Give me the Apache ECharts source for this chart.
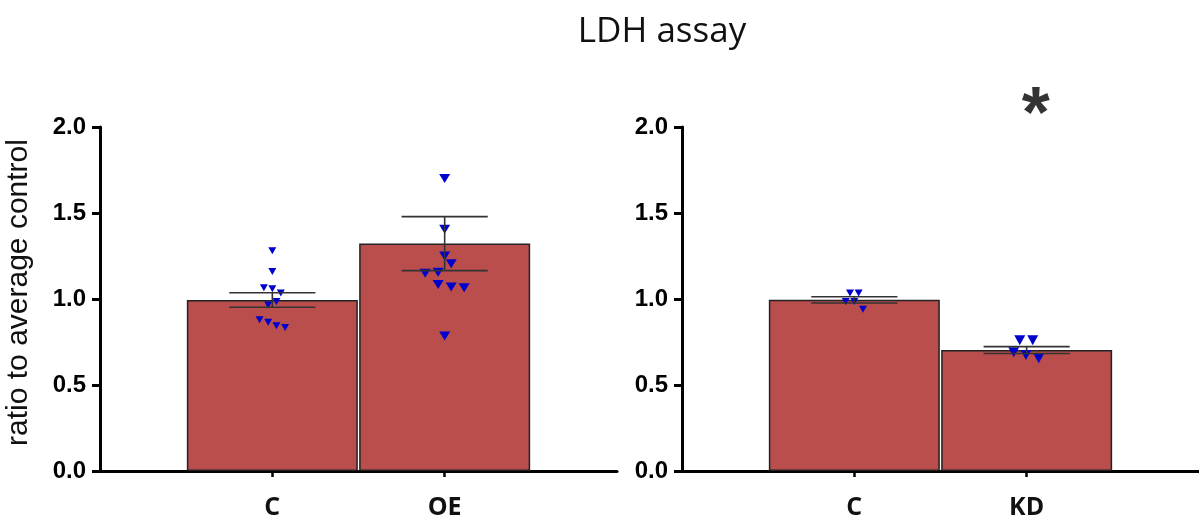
<!DOCTYPE html>
<html>
<head>
<meta charset="utf-8">
<script src="https://cdn.jsdelivr.net/npm/echarts@6/dist/echarts.min.js"></script>
<style>
  html, body { margin: 0; padding: 0; background: #ffffff; }
  #chart { width: 1199px; height: 525px; }
</style>
</head>
<body>
<div id="chart"></div>
<script>
// ---- data ----
const titleText = 'LDH assay';
const yAxisTitle = 'ratio to average control';

const leftCategories = ['C', 'OE'];
const leftMeans = [0.994, 1.322];
const leftSem = [0.042, 0.157];
const leftCPoints = [1.28, 1.16, 1.065, 1.06, 1.035, 0.985, 0.965, 0.88, 0.865, 0.845, 0.835];
const leftCJitter = [0, 0, -0.049, 0, 0.049, 0.024, -0.024, -0.074, -0.024, 0.024, 0.074];
const oePoints = [1.70, 1.405, 1.25, 1.205, 1.15, 1.155, 1.085, 1.07, 1.065, 0.785];
const oeJitter = [0, 0, 0, 0.038, -0.113, -0.038, -0.038, 0.038, 0.113, 0];

const rightCategories = ['C', 'KD'];
const rightMeans = [0.995, 0.703];
const rightSem = [0.018, 0.020];
const rightCPoints = [1.035, 1.035, 0.985, 0.985, 0.94];
const rightCJitter = [-0.025, 0.025, -0.05, 0, 0.05];
const kdPoints = [0.76, 0.76, 0.69, 0.675, 0.655];
const kdJitter = [-0.04, 0.035, -0.075, -0.004, 0.07];

const yTickValues = [0, 0.5, 1.0, 1.5, 2.0];
const significance = { panel: 1, category: 'KD', mark: '*', level: 2.06 };

// ---- styles ----
const barColor = '#B94E4D';
const pointColor = '#0000CC';
const axisColor = '#000000';

function xAxisFor(gridIndex, cats) {
  const idx = cats.map((c, i) => i + 1);
  return {
    type: 'value', gridIndex: gridIndex, min: 0, max: cats.length + 1, interval: 1,
    axisLine: { show: true, onZero: false, lineStyle: { color: axisColor, width: 3 } },
    axisTick: { show: true, customValues: idx, length: 6, lineStyle: { color: axisColor, width: 2.5 } },
    axisLabel: {
      customValues: idx, margin: 24,
      formatter: v => (cats[Math.round(v) - 1] !== undefined ? cats[Math.round(v) - 1] : ''),
      fontFamily: 'Open Sans', fontWeight: 'bold', fontSize: 25, color: '#111'
    },
    splitLine: { show: false }
  };
}

function yAxisFor(gridIndex, withName) {
  const ax = {
    type: 'value', gridIndex: gridIndex, min: yTickValues[0], max: yTickValues[yTickValues.length - 1],
    interval: yTickValues[1] - yTickValues[0],
    axisLine: { show: true, lineStyle: { color: axisColor, width: 3 } },
    axisTick: { show: true, length: 8, lineStyle: { color: axisColor, width: 3 } },
    axisLabel: {
      margin: 14, formatter: v => v.toFixed(1),
      fontFamily: 'Liberation Sans', fontWeight: 'bold', fontSize: 24, color: '#000'
    },
    splitLine: { show: false }
  };
  if (withName) {
    ax.name = yAxisTitle;
    ax.nameLocation = 'middle';
    ax.nameRotate = 90;
    ax.nameGap = 66;
    ax.nameTextStyle = { fontFamily: 'Liberation Sans', fontSize: 30, color: '#111', padding: [0, 0, 0, 13] };
  }
  return ax;
}

function panelSeries(gridIndex, means, sems, groups) {
  const out = [];
  out.push({
    type: 'bar', xAxisIndex: gridIndex, yAxisIndex: gridIndex,
    data: means.map((m, k) => [k + 1, m]),
    barWidth: 171,
    itemStyle: { color: barColor, borderColor: '#222', borderWidth: 1.5 },
    z: 2, silent: true
  });
  out.push({
    type: 'custom', xAxisIndex: gridIndex, yAxisIndex: gridIndex,
    data: means.map((m, k) => [k + 1, m - sems[k], m + sems[k]]),
    renderItem: function (params, api) {
      const x = api.value(0);
      const lo = api.coord([x, api.value(1)]);
      const hi = api.coord([x, api.value(2)]);
      const half = api.size([1, 0])[0] * 0.25;
      const st = { stroke: '#333', lineWidth: 1.6 };
      return {
        type: 'group',
        children: [
          { type: 'line', shape: { x1: lo[0], y1: lo[1], x2: hi[0], y2: hi[1] }, style: st },
          { type: 'line', shape: { x1: lo[0] - half, y1: lo[1], x2: lo[0] + half, y2: lo[1] }, style: st },
          { type: 'line', shape: { x1: hi[0] - half, y1: hi[1], x2: hi[0] + half, y2: hi[1] }, style: st }
        ]
      };
    },
    z: 4, silent: true
  });
  groups.forEach(g => {
    out.push({
      type: 'scatter', xAxisIndex: gridIndex, yAxisIndex: gridIndex,
      data: g.points.map((v, j) => [g.pos + g.jitter[j], v]),
      symbol: 'triangle', symbolRotate: 180, symbolSize: g.size,
      itemStyle: { color: pointColor, opacity: 1 },
      z: 3, silent: true
    });
  });
  return out;
}

const chart = echarts.init(document.getElementById('chart'), null, { renderer: 'canvas' });

const series = []
  .concat(panelSeries(0, leftMeans, leftSem, [
    { pos: 1, points: leftCPoints, jitter: leftCJitter, size: [8, 7] },
    { pos: 2, points: oePoints, jitter: oeJitter, size: [11, 9] }
  ]))
  .concat(panelSeries(1, rightMeans, rightSem, [
    { pos: 1, points: rightCPoints, jitter: rightCJitter, size: [8, 7] },
    { pos: 2, points: kdPoints, jitter: kdJitter, size: [11, 10] }
  ]));

series.push({
  type: 'scatter', xAxisIndex: significance.panel, yAxisIndex: significance.panel,
  clip: false, silent: true,
  data: [[rightCategories.indexOf(significance.category) + 1, significance.level]],
  symbolSize: 1, itemStyle: { color: 'rgba(0,0,0,0)' },
  label: {
    show: true, position: 'inside', offset: [9, 0], formatter: significance.mark,
    fontFamily: 'Liberation Sans', fontWeight: 'bold', fontSize: 72, color: '#000'
  },
  z: 10
});

chart.setOption({
  animation: false,
  backgroundColor: '#ffffff',
  title: {
    text: titleText, left: 657, top: 10, textAlign: 'center',
    textStyle: { fontFamily: 'Open Sans', fontSize: 35, fontWeight: 'normal', color: '#111' }
  },
  grid: [
    { left: 100, top: 127, width: 517, height: 344 },
    { left: 682, top: 127, width: 517, height: 344 }
  ],
  xAxis: [xAxisFor(0, leftCategories), xAxisFor(1, rightCategories)],
  yAxis: [yAxisFor(0, true), yAxisFor(1, false)],
  series: series
});
</script>
</body>
</html>
